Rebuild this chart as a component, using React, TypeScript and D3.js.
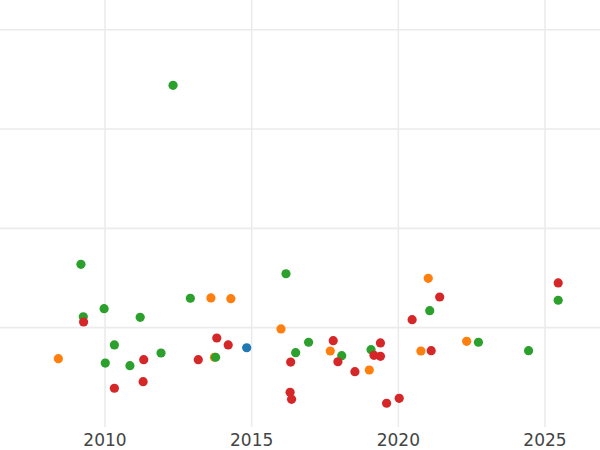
import React from "react";
import * as d3 from "d3";

const xTicks = [2010, 2015, 2020, 2025];
const yTicks = [1, 2, 3, 4];

const blueX = [2014.83];
const blueY = [0.798];

const orangeX = [2008.41, 2013.61, 2014.29, 2013.73, 2016.0, 2017.68, 2019.01, 2021.02, 2020.77, 2022.33];
const orangeY = [0.688, 1.299, 1.292, 0.702, 0.987, 0.765, 0.574, 1.497, 0.765, 0.863];

const greenX = [2009.18, 2009.26, 2009.97, 2011.2, 2010.32, 2010.01, 2010.85, 2011.91, 2012.91, 2013.77, 2016.17, 2016.5, 2012.32, 2016.94, 2018.07, 2019.07, 2021.07, 2022.73, 2024.44, 2025.45];
const greenY = [1.638, 1.11, 1.191, 1.104, 0.826, 0.644, 0.617, 0.745, 1.296, 0.702, 1.543, 0.748, 3.44, 0.853, 0.718, 0.778, 1.171, 0.853, 0.768, 1.276];

const redX = [2009.27, 2011.32, 2010.32, 2011.3, 2013.81, 2014.2, 2013.18, 2016.33, 2016.31, 2016.36, 2017.78, 2017.94, 2018.52, 2019.17, 2019.39, 2019.39, 2019.6, 2020.03, 2020.47, 2021.41, 2021.12, 2025.45];
const redY = [1.057, 0.678, 0.39, 0.456, 0.896, 0.826, 0.678, 0.654, 0.349, 0.279, 0.869, 0.657, 0.557, 0.722, 0.846, 0.712, 0.239, 0.289, 1.08, 1.309, 0.768, 1.45];

const seriesList = [
  { name: "blue", color: "#1f77b4", xs: blueX, ys: blueY },
  { name: "orange", color: "#ff7f0e", xs: orangeX, ys: orangeY },
  { name: "green", color: "#2ca02c", xs: greenX, ys: greenY },
  { name: "red", color: "#d62728", xs: redX, ys: redY },
];

export default function App() {
  const W = 600;
  const H = 450;
  const plotTop = 0;
  const plotBottom = 427;
  const plotLeft = 0;
  const plotRight = 600;

  const x = d3
    .scaleLinear()
    .domain([2010, 2025])
    .range([105, 545]);
  const y = d3
    .scaleLinear()
    .domain([0, 4])
    .range([plotBottom, plotBottom - 4 * 99.33]);

  return (
    <svg
      width={W}
      height={H}
      style={{ position: "absolute", left: 0, top: 0, background: "#fff" }}
      fontFamily="'DejaVu Sans', sans-serif"
    >
      <rect x={0} y={0} width={W} height={H} fill="#fff" />
      <g>
        {yTicks.map((t) => (
          <line
            key={"yg" + t}
            x1={plotLeft}
            x2={plotRight}
            y1={y(t)}
            y2={y(t)}
            stroke="#ebebeb"
            strokeWidth={1.6}
          />
        ))}
        {xTicks.map((t) => (
          <line
            key={"xg" + t}
            x1={x(t)}
            x2={x(t)}
            y1={plotTop}
            y2={plotBottom}
            stroke="#ebebeb"
            strokeWidth={1.6}
          />
        ))}
      </g>
      <g>
        {seriesList.map((s) => (
          <g key={s.name}>
            {s.xs.map((xv, i) => (
              <circle key={i} cx={x(xv)} cy={y(s.ys[i])} r={4.6} fill={s.color} />
            ))}
          </g>
        ))}
      </g>
      <g>
        {xTicks.map((t) => (
          <text
            key={"xl" + t}
            x={x(t)}
            y={446}
            textAnchor="middle"
            fontSize={17}
            fill="#444"
          >
            {t}
          </text>
        ))}
      </g>
    </svg>
  );
}
